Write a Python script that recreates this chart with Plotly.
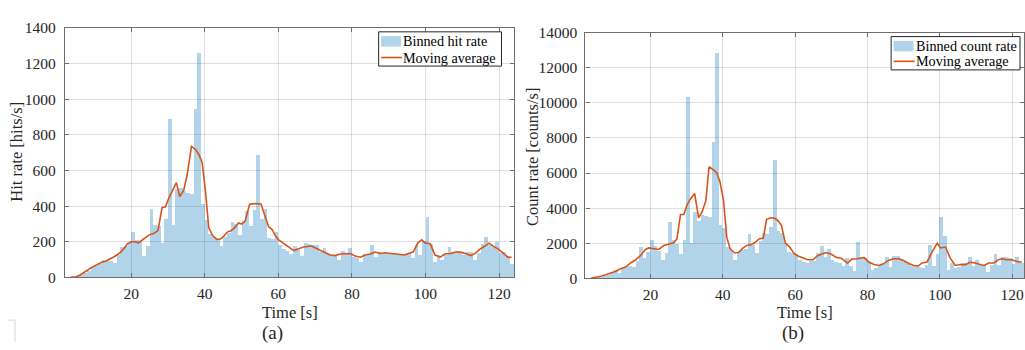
import plotly.graph_objects as go

# ---------------- data ----------------
bin_start = list(range(2, 124))          # 1-s bins, left edges [s]
bin_center = [b + 0.5 for b in bin_start]

hit_rate = [
    0, 1, 3, 8, 15, 25, 38, 50, 62, 72,
    98, 90, 92, 82, 125, 170, 178, 190, 254, 211,
    205, 121, 173, 384, 291, 286, 191, 325, 888, 291,
    495, 500, 486, 473, 468, 946, 1262, 411, 321, 241,
    225, 210, 173, 227, 250, 313, 298, 236, 316, 373,
    286, 380, 688, 327, 384, 223, 214, 254, 179, 157,
    145, 131, 174, 152, 122, 195, 185, 179, 183, 140,
    165, 131, 122, 120, 95, 147, 134, 167, 113, 108,
    86, 131, 125, 179, 116, 143, 134, 134, 138, 134,
    131, 125, 125, 134, 108, 183, 125, 206, 337, 188,
    86, 125, 99, 125, 170, 143, 138, 134, 125, 143,
    140, 95, 138, 185, 224, 179, 170, 197, 134, 143,
    120, 75,
]

count_rate = [
    0, 5, 15, 40, 90, 150, 220, 300, 470, 325,
    600, 650, 690, 650, 1000, 1810, 1195, 1500, 2190, 1860,
    1556, 1050, 1450, 3220, 2190, 1955, 1410, 2190, 10335, 2050,
    3800, 3260, 3620, 3550, 3490, 7800, 12850, 3060, 2880, 1800,
    1640, 1055, 1510, 1600, 1690, 2510, 1930, 1455, 2145, 2600,
    2545, 2910, 6730, 2690, 2600, 2000, 1510, 1455, 1380, 1055,
    960, 870, 1020, 1020, 1455, 1870, 1240, 1690, 1055, 960,
    910, 690, 1145, 690, 420, 2055, 1200, 1145, 960, 510,
    600, 780, 820, 1200, 640, 1290, 1290, 1110, 960, 840,
    690, 640, 640, 600, 780, 1910, 690, 1420, 3530, 2420,
    510, 870, 600, 655, 910, 870, 1240, 730, 1055, 780,
    780, 365, 745, 1380, 780, 1200, 1240, 1145, 840, 1200,
    910, 870,
]

ma_hit_t = [3.5, 5, 6, 7, 8, 9, 10, 11, 12, 13, 14, 15, 16, 17, 18, 19, 20, 21, 22,
            23.4, 24.8, 26.2, 27.3, 28.4, 29.3, 30.2, 31.4, 32.3, 33.2, 34.3, 35.2,
            36.4, 37.5, 38.4, 39.3, 40.2, 41.1, 42.2, 43.3, 44.3, 45.2, 46.1, 47.0,
            48.1, 49.2, 50.1, 51.0, 52.2, 53.3, 54.4, 55.3, 56.3, 57.4, 58.3, 59.2,
            60.1, 61.0, 62.1, 63.1, 64.2, 65.5, 66.9, 69, 70, 71.4, 72.8, 74.1, 75.5,
            76.8, 78.2, 79.5, 80.9, 82.3, 83.6, 85, 86.3, 87.7, 89, 90.8, 92.7, 94.3,
            95.4, 96.7, 97.9, 99, 99.9, 101.3, 102.6, 104, 105.3, 106.7, 108.5, 109.9,
            111.2, 112.4, 113.5, 114.8, 116.2, 117.3, 118.5, 119.8, 121.2, 122.4, 123.4]
ma_hit = [0, 3, 12, 23, 38, 52, 63, 75, 84, 90, 99, 111, 124, 138, 161, 188, 200, 200, 194,
          215, 237, 247, 263, 391, 394, 443, 496, 532, 453, 489, 573,
          735, 717, 690, 645, 484, 278, 233, 213, 215, 231, 254, 260,
          278, 305, 299, 317, 410, 414, 414, 412, 349, 283, 269, 233,
          210, 197, 180, 167, 150, 161, 170, 176, 167, 152, 138, 125, 122,
          131, 134, 134, 120, 113, 125, 131, 142, 134, 138, 134, 131, 125,
          134, 143, 192, 211, 192, 188, 125, 113, 131, 134, 143, 140,
          131, 122, 134, 158, 176, 192, 174, 158, 134, 113, 113]

ma_cnt_t = [3.5, 4.9, 6.2, 7.6, 9, 10.4, 11.7, 13.1, 14.5, 15.9, 17.2, 18.6, 19.5, 20.9,
            22.3, 23.7, 25, 26.4, 27.3, 28.3, 29.2, 30.1, 31, 32.2, 33.3, 34.2, 35.3,
            36.2, 37.4, 38.3, 39.2, 40.2, 41.1, 42, 43.2, 44.3, 45.4, 46.6, 47.8, 48.9,
            50, 51.2, 52.1, 53.3, 54.4, 55.3, 56.2, 57.3, 58.5, 59.7, 60.8, 62.1, 63.5,
            64.9, 66.2, 67.4, 68.5, 69.9, 71.3, 72.7, 74.5, 75.7, 77.2, 79.1, 80.5,
            81.8, 83.2, 84.4, 85.8, 87.2, 88.7, 90.1, 91.4, 92.8, 94, 95.1, 96.5, 97.9,
            99.3, 100.2, 101.6, 102.9, 104.3, 105.7, 107.1, 108.4, 109.8, 111.2, 112.3,
            113.5, 114.9, 116.2, 117.3, 118.5, 119.9, 121.3, 122.7]
ma_cnt = [0, 36, 110, 200, 290, 400, 545, 636, 870, 1055, 1290, 1640, 1730, 1670,
          1640, 1870, 1960, 2020, 2240, 3640, 3640, 4180, 4510, 4840, 3450, 3750, 4420,
          6360, 6180, 6020, 5510, 4420, 2330, 1690, 1455, 1470, 1690, 1870, 1910, 2040,
          2240, 2290, 3360, 3450, 3420, 3270, 3020, 2000, 1780, 1420, 1270, 1145, 1055,
          1055, 1290, 1380, 1470, 1380, 1200, 1145, 870, 1090, 1110, 1180, 910,
          780, 730, 820, 1020, 1110, 1110, 1000, 840, 730, 690, 870, 930, 1510,
          2000, 1730, 1780, 1145, 730, 780, 780, 910, 870, 780, 730,
          870, 870, 1055, 1110, 1055, 1055, 960, 910]

x_ticks = [20, 40, 60, 80, 100, 120]
y_ticks_hit = [0, 200, 400, 600, 800, 1000, 1200, 1400]
y_ticks_cnt = [0, 2000, 4000, 6000, 8000, 10000, 12000, 14000]
y_ticklabels_cnt = ["0", "2000", "4000", "6000", "8000", "10000", "12000", "14000"]

legend_a = ["Binned hit rate", "Moving average"]
legend_b = ["Binned count rate", "Moving average"]

# ---------------- style ----------------
W, H = 1025, 350
FONT = "Liberation Serif"
BAR_COLOR = "rgba(0,114,189,0.30)"
LINE_COLOR = "rgb(217,83,25)"
AX_COLOR = "rgb(110,110,110)"
GRID_COLOR = "rgba(0,0,0,0.13)"
TXT = "rgb(38,38,38)"

def px(x):
    return x / W

def py(y):
    return 1 - y / H

fig = go.Figure()

fig.add_trace(go.Bar(x=bin_center, y=hit_rate, width=1, marker=dict(color=BAR_COLOR, line=dict(width=0)),
                     name=legend_a[0], xaxis="x", yaxis="y", showlegend=False))
fig.add_trace(go.Scatter(x=ma_hit_t, y=ma_hit, mode="lines", line=dict(color=LINE_COLOR, width=1.6),
                         name=legend_a[1], xaxis="x", yaxis="y", showlegend=False))
fig.add_trace(go.Bar(x=bin_center, y=count_rate, width=1, marker=dict(color=BAR_COLOR, line=dict(width=0)),
                     name=legend_b[0], xaxis="x2", yaxis="y2", showlegend=False))
fig.add_trace(go.Scatter(x=ma_cnt_t, y=ma_cnt, mode="lines", line=dict(color=LINE_COLOR, width=1.6),
                         name=legend_b[1], xaxis="x2", yaxis="y2", showlegend=False))

axis_common = dict(
    showline=True, linecolor=AX_COLOR, linewidth=1.2, mirror="allticks",
    ticks="inside", ticklen=4, tickcolor=AX_COLOR, tickwidth=1,
    showgrid=True, gridcolor=GRID_COLOR, gridwidth=1, zeroline=False,
    tickfont=dict(family=FONT, size=15.5, color=TXT),
)

fig.update_layout(
    width=W, height=H,
    margin=dict(l=0, r=0, t=0, b=0),
    paper_bgcolor="white", plot_bgcolor="white",
    barmode="overlay", bargap=0,
    font=dict(family=FONT, color=TXT),
    showlegend=False,
    xaxis=dict(domain=[px(65), px(515)], range=[2, 124.2], tickvals=x_ticks, anchor="y",
               ticklabelstandoff=2, **axis_common),
    yaxis=dict(domain=[py(282), py(20)], range=[0, 1400], tickvals=y_ticks_hit, anchor="x",
               ticklabelstandoff=5, **axis_common),
    xaxis2=dict(domain=[px(586), 1.0], range=[2, 123.3], tickvals=x_ticks, anchor="y2",
                ticklabelstandoff=2, **axis_common),
    yaxis2=dict(domain=[py(283), py(25)], range=[0, 14000], tickvals=y_ticks_cnt,
                ticktext=y_ticklabels_cnt, anchor="x2", ticklabelstandoff=4, **axis_common),
)

ann = [
    dict(text="Time [s]", x=px(290), y=py(319)),
    dict(text="(a)", x=px(273), y=py(341), size=19),
    dict(text="Time [s]", x=px(806), y=py(319)),
    dict(text="(b)", x=px(794), y=py(341), size=19),
    dict(text="Hit rate [hits/s]", x=px(17), y=py(150), angle=-90),
    dict(text="Count rate [counts/s]", x=px(533), y=py(155), angle=-90),
]
for a in ann:
    fig.add_annotation(text=a["text"], x=a["x"], y=a["y"], xref="paper", yref="paper",
                       xanchor="center", yanchor="middle", showarrow=False,
                       textangle=a.get("angle", 0), borderpad=0,
                       font=dict(family=FONT, size=a.get("size", 16.5), color=TXT))

# ---- legends drawn as boxes (MATLAB style) ----
def draw_legend(x0, y0, x1, y1, labels, row_y):
    fig.add_shape(type="rect", xref="paper", yref="paper", layer="above",
                  x0=px(x0), x1=px(x1), y0=py(y1), y1=py(y0),
                  fillcolor="white", line=dict(color="rgb(38,38,38)", width=1))
    # bar swatch
    fig.add_shape(type="rect", xref="paper", yref="paper", layer="above",
                  x0=px(x0 + 2.5), x1=px(x0 + 22.5), y0=py(row_y[0] + 5.5), y1=py(row_y[0] - 5.5),
                  fillcolor=BAR_COLOR, line=dict(width=0))
    # line swatch
    fig.add_shape(type="line", xref="paper", yref="paper", layer="above",
                  x0=px(x0 + 2.5), x1=px(x0 + 23.5), y0=py(row_y[1]), y1=py(row_y[1]),
                  line=dict(color=LINE_COLOR, width=1.6))
    for lab, yy in zip(labels, row_y):
        fig.add_annotation(text=lab, x=px(x0 + 23.5), y=py(yy), xref="paper", yref="paper",
                           xanchor="left", yanchor="middle", showarrow=False, borderpad=0,
                           font=dict(family=FONT, size=14.2, color="black"))

draw_legend(379, 24, 502, 60, legend_a, [34, 51])
draw_legend(892, 29, 1021, 64, legend_b, [39, 55])

# small light-grey corner mark at the bottom left of the page
fig.add_shape(type="line", xref="paper", yref="paper", x0=px(15), x1=px(15), y0=py(327), y1=0,
              line=dict(color="rgb(215,215,215)", width=1))
fig.add_shape(type="line", xref="paper", yref="paper", x0=px(8), x1=px(15), y0=py(327), y1=py(327),
              line=dict(color="rgb(215,215,215)", width=1))

fig.write_html("out.html")
